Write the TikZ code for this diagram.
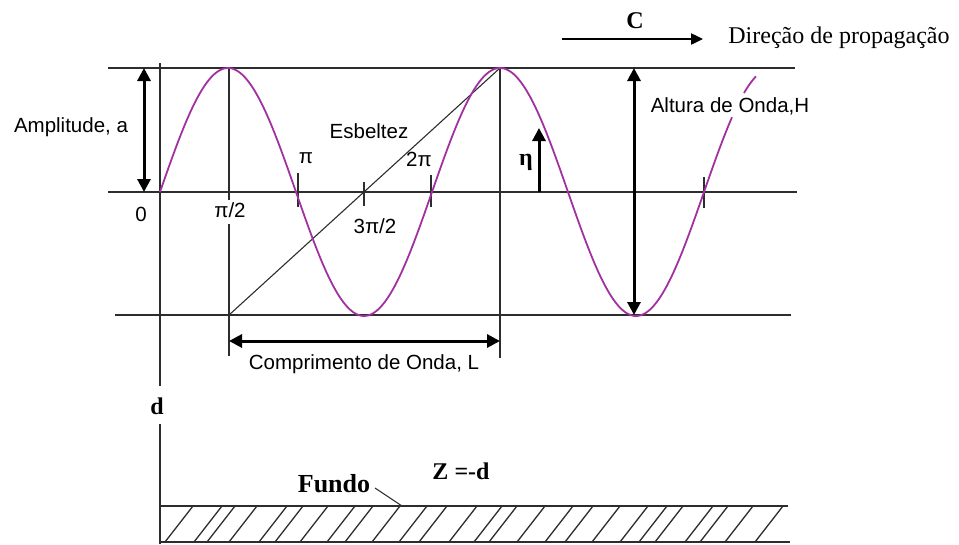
\documentclass[tikz,border=0pt]{standalone}
\usepackage{fontspec}
\setmainfont{Liberation Serif}
\setsansfont{Liberation Sans}
\usetikzlibrary{arrows.meta}
\definecolor{wavecol}{RGB}{160,50,160}
\definecolor{lncol}{RGB}{45,45,45}
\begin{document}
\begin{tikzpicture}[x=1pt,y=-1pt,
  guide/.style={draw=lncol,line width=1.6pt},
  thinguide/.style={draw=lncol,line width=1.1pt},
  tickmark/.style={draw=lncol,line width=1.6pt},
  dimarrow/.style={draw=black,line width=3pt,{Triangle[length=13pt,width=13pt]}-{Triangle[length=13pt,width=13pt]}},
  uparrow/.style={draw=black,line width=3pt,-{Triangle[length=13pt,width=13pt]}},
  proparrow/.style={draw=black,line width=2.4pt,-{Triangle[length=12pt,width=11pt]}},
  sanslbl/.style={font=\sffamily\fontsize{20.5}{24}\selectfont,inner sep=0pt,anchor=base},
  seriflbl/.style={font=\rmfamily\fontsize{24}{28}\selectfont,inner sep=0pt,anchor=base},
  boldlbl/.style={font=\rmfamily\bfseries\fontsize{24}{28}\selectfont,inner sep=0pt,anchor=base},
  wavestyle/.style={draw=wavecol,line width=1.8pt},
  hatchline/.style={draw=lncol,line width=1.3pt}]
\useasboundingbox (0,0) rectangle (959,544);

% coordinates
\coordinate (tl) at (108,68);  \coordinate (tr) at (795,68);
\coordinate (ml) at (108,192); \coordinate (mr) at (797,192);
\coordinate (bl) at (115,315); \coordinate (br) at (791,315);
\coordinate (v0t) at (160,63); \coordinate (v0a) at (160,386);
\coordinate (v0b) at (160,424); \coordinate (v0e) at (160,544);
\coordinate (v1t) at (229,68); \coordinate (v1a) at (229,200);
\coordinate (v1b) at (229,224); \coordinate (v1e) at (229,356);
\coordinate (v1bot) at (229,315);
\coordinate (v2t) at (500,68); \coordinate (v2e) at (500,358);
\coordinate (ampT) at (144,68); \coordinate (ampB) at (144,192);
\coordinate (altT) at (634,68); \coordinate (altB) at (634,315);
\coordinate (etaB) at (539,192); \coordinate (etaT) at (539,128);
\coordinate (lenL) at (229,341); \coordinate (lenR) at (500,341);
\coordinate (propL) at (562,39); \coordinate (propR) at (703,39);
\coordinate (bedL) at (160,506); \coordinate (bedR) at (788,506);
\coordinate (botL) at (160,542); \coordinate (botR) at (790,542);
\coordinate (fundoEnd) at (375,488); \coordinate (fundoPt) at (402,506);

% guide lines
\draw[guide] (tl) -- (tr);
\draw[guide] (ml) -- (mr);
\draw[guide] (bl) -- (br);
\draw[guide] (v0t) -- (v0a);
\draw[guide] (v0b) -- (v0e);
\draw[guide] (v1t) -- (v1a);
\draw[guide] (v1b) -- (v1e);
\draw[guide] (v2t) -- (v2e);
\draw[thinguide] (v1bot) -- (v2t);

% ticks
\foreach \tx/\ta/\tb in {298/173/207,364/182/206,431/175/207,704/177/208}
  \draw[tickmark] (\tx,\ta) -- (\tx,\tb);

% wave
\draw[wavestyle] plot[domain=160:732,samples=300] (\x,{192-124*sin((\x-160)*1.3235294)});
\draw[wavestyle] plot[domain=744:756,samples=10] (\x,{192-124*sin((\x-160)*1.3235294)});

% arrows
\draw[dimarrow] (ampT) -- (ampB);
\draw[dimarrow] (altT) -- (altB);
\draw[dimarrow] (lenL) -- (lenR);
\draw[uparrow] (etaB) -- (etaT);
\draw[proparrow] (propL) -- (propR);

% sea bed
\draw[guide] (bedL) -- (bedR);
\draw[guide] (botL) -- (botR);
\foreach \t in {193,222,235,257,287,303,328,355,373,400,427,447,477,502,517,545,573,593,620,648,667,683,713,728,753,783}
  \draw[hatchline] ({\t-28},542) -- (\t,506);
\draw[thinguide] (fundoEnd) -- (fundoPt);

% labels
\node[sanslbl] (amp) at (71,132) {Amplitude, a};
\node[sanslbl] (zero) at (141,221) {0};
\node[sanslbl] (pihalf) at (230,217) {π/2};
\node[sanslbl] (pi) at (306,163) {π};
\node[sanslbl] (tpt) at (375,233) {3π/2};
\node[sanslbl] (twopi) at (419,166) {2π};
\node[sanslbl] (esb) at (369,138) {Esbeltez};
\node[sanslbl] (alt) at (730,112) {Altura de Onda,H};
\node[sanslbl] (len) at (364,369) {Comprimento de Onda, L};
\node[boldlbl] (cel) at (635,28) {C};
\node[seriflbl] (dir) at (839,43) {Direção de propagação};
\node[boldlbl] (eta) at (526,165) {η};
\node[boldlbl] (dep) at (157,414) {d};
\node[boldlbl] (zed) at (461,479) {Z =-d};
\node[boldlbl,font=\rmfamily\bfseries\fontsize{26}{30}\selectfont] (fundo) at (334,492) {Fundo};
\end{tikzpicture}
\end{document}
